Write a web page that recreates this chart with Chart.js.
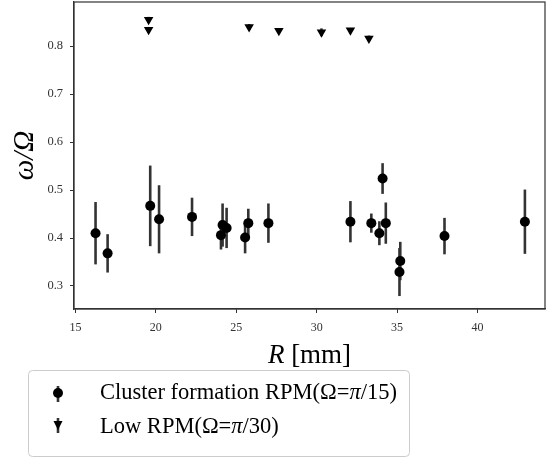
<!DOCTYPE html>
<html>
<head>
<meta charset="utf-8">
<script src="https://cdn.jsdelivr.net/npm/chart.js@4"></script>
<style>
    body { margin: 0; background: #fff; }
    #wrap { width: 546px; height: 459px; position: relative; }
</style>
</head>
<body>
<div id="wrap"><canvas id="omegaChart"></canvas></div>
<script>
// cluster formation RPM (Omega = pi/15)
var clusterR = [16.25, 17.0, 19.65, 20.2, 22.25, 24.05, 24.15, 24.4, 25.55, 25.75, 27.0, 32.1, 33.4, 33.9, 34.1, 34.3, 35.15, 35.2, 37.95, 42.95];
var clusterW = [0.410, 0.368, 0.467, 0.439, 0.444, 0.406, 0.427, 0.421, 0.401, 0.431, 0.431, 0.434, 0.431, 0.410, 0.524, 0.431, 0.329, 0.352, 0.404, 0.434];
var clusterErr = [0.065, 0.040, 0.084, 0.071, 0.040, 0.030, 0.045, 0.042, 0.033, 0.030, 0.041, 0.043, 0.020, 0.025, 0.032, 0.043, 0.050, 0.040, 0.038, 0.067];

// low RPM (Omega = pi/30)
var lowR = [19.55, 19.55, 25.8, 27.65, 30.3, 32.1, 33.25];
var lowW = [0.855, 0.834, 0.840, 0.832, 0.829, 0.833, 0.816];
var lowErr = [0.006, 0.006, 0.006, 0.003, 0.008, 0.003, 0.006];

var xTicks = [15, 20, 25, 30, 35, 40];
var yTicks = [0.3, 0.4, 0.5, 0.6, 0.7, 0.8];

var serif = "'Liberation Serif', 'Times New Roman', serif";

function toPoints(xs, ys, errs) {
    var pts = [];
    for (var i = 0; i < xs.length; i++) {
        pts.push({ x: xs[i], y: ys[i], err: errs[i] });
    }
    return pts;
}

// vertical error bars, drawn under the markers
var errorBars = {
    id: 'errorBars',
    beforeDatasetsDraw: function (chart) {
        var ctx = chart.ctx;
        var xs = chart.scales.x, ys = chart.scales.y;
        var area = chart.chartArea;
        ctx.save();
        ctx.beginPath();
        ctx.rect(area.left, area.top, area.right - area.left, area.bottom - area.top);
        ctx.clip();
        ctx.strokeStyle = '#333';
        ctx.lineWidth = 2.6;
        chart.data.datasets.forEach(function (ds) {
            ds.data.forEach(function (p) {
                var x = xs.getPixelForValue(p.x);
                ctx.beginPath();
                ctx.moveTo(x, ys.getPixelForValue(p.y - p.err));
                ctx.lineTo(x, ys.getPixelForValue(p.y + p.err));
                ctx.stroke();
            });
        });
        ctx.restore();
    }
};

function drawMixed(ctx, parts, x, y, align) {
    var total = 0;
    parts.forEach(function (p) { ctx.font = p[1]; total += ctx.measureText(p[0]).width; });
    var cx = align == 'center' ? x - total / 2 : x;
    ctx.textAlign = 'left';
    parts.forEach(function (p) {
        ctx.font = p[1];
        ctx.fillText(p[0], cx, y);
        cx += ctx.measureText(p[0]).width;
    });
}

// frame, axis titles and legend
var decorations = {
    id: 'decorations',
    afterDraw: function (chart) {
        var ctx = chart.ctx;
        var a = chart.chartArea;
        ctx.save();
        ctx.strokeStyle = '#333';
        ctx.lineWidth = 1.2;
        ctx.strokeRect(a.left, a.top, a.right - a.left, a.bottom - a.top);

        ctx.fillStyle = '#000';
        ctx.textBaseline = 'alphabetic';
        drawMixed(ctx, [['R', 'italic 27px ' + serif], [' [mm]', '27px ' + serif]], (a.left + a.right) / 2, 363, 'center');

        ctx.save();
        ctx.translate(33, (a.top + a.bottom) / 2);
        ctx.rotate(-Math.PI / 2);
        ctx.textAlign = 'center';
        ctx.font = 'italic 29px ' + serif;
        ctx.fillText('ω/Ω', 0, 0);
        ctx.restore();

        // legend box
        ctx.beginPath();
        ctx.roundRect(28.5, 370.5, 381, 86, 4);
        ctx.fillStyle = '#fff';
        ctx.fill();
        ctx.strokeStyle = '#ccc';
        ctx.lineWidth = 1;
        ctx.stroke();

        ctx.strokeStyle = '#333';
        ctx.lineWidth = 2.6;
        ctx.beginPath();
        ctx.moveTo(58, 386); ctx.lineTo(58, 402);
        ctx.moveTo(58, 418); ctx.lineTo(58, 433);
        ctx.stroke();

        ctx.fillStyle = '#000';
        ctx.beginPath();
        ctx.arc(58, 393, 5, 0, Math.PI * 2);
        ctx.fill();
        ctx.beginPath();
        ctx.moveTo(53.5, 421); ctx.lineTo(62.5, 421); ctx.lineTo(58, 430);
        ctx.closePath();
        ctx.fill();

        var up = '22.5px ' + serif, it = 'italic 22.5px ' + serif;
        drawMixed(ctx, [['Cluster formation RPM(Ω=', up], ['π', it], ['/15)', up]], 100, 399, 'left');
        drawMixed(ctx, [['Low RPM(Ω=', up], ['π', it], ['/30)', up]], 100, 433, 'left');
        ctx.restore();
    }
};

new Chart('omegaChart', {
    type: 'scatter',
    data: {
        datasets: [{
            label: 'Cluster formation RPM(Ω=π/15)',
            data: toPoints(clusterR, clusterW, clusterErr),
            pointStyle: 'circle',
            pointRadius: 5,
            backgroundColor: '#000',
            borderWidth: 0
        },
        {
            label: 'Low RPM(Ω=π/30)',
            data: toPoints(lowR, lowW, lowErr),
            pointStyle: 'triangle',
            rotation: 180,
            pointRadius: 5.5,
            backgroundColor: '#000',
            borderWidth: 0
        }]
    },
    options: {
        responsive: true,
        maintainAspectRatio: false,
        animation: false,
        layout: { autoPadding: false, padding: { top: 2, right: 1, bottom: 0, left: 0 } },
        plugins: {
            legend: { display: false },
            tooltip: { enabled: false }
        },
        scales: {
            x: {
                type: 'linear',
                min: 14.91,
                max: 44.2,
                afterFit: function (scale) {
                    scale.height = 150;
                    scale.paddingLeft = 0;
                    scale.paddingRight = 0;
                },
                afterBuildTicks: function (scale) {
                    scale.ticks = xTicks.map(function (v) { return { value: v }; });
                },
                grid: { drawOnChartArea: false, drawTicks: true, tickLength: 4, color: '#333' },
                border: { display: true, color: '#333', width: 1.2 },
                ticks: {
                    color: '#333',
                    padding: 8,
                    maxRotation: 0,
                    font: { family: serif, size: 12 }
                }
            },
            y: {
                min: 0.252,
                max: 0.892,
                afterFit: function (scale) {
                    scale.width = 74;
                    scale.paddingTop = 0;
                    scale.paddingBottom = 0;
                },
                afterBuildTicks: function (scale) {
                    scale.ticks = yTicks.map(function (v) { return { value: v }; });
                },
                grid: { drawOnChartArea: false, drawTicks: true, tickLength: 4, color: '#333' },
                border: { display: true, color: '#333', width: 1.2 },
                ticks: {
                    color: '#333',
                    padding: 7,
                    font: { family: serif, size: 12.5 },
                    callback: function (v) { return v.toFixed(1); }
                }
            }
        }
    },
    plugins: [errorBars, decorations]
});
</script>
</body>
</html>
